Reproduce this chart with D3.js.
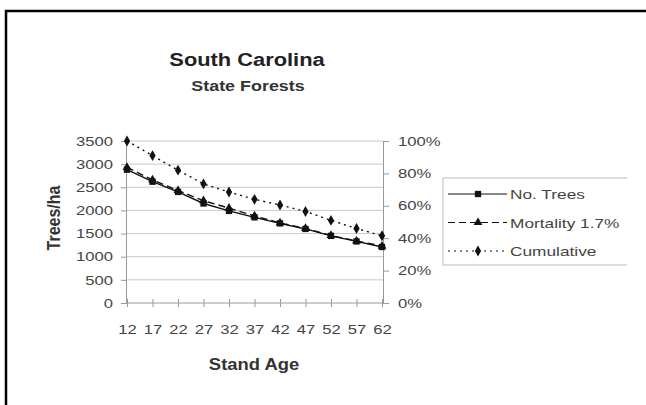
<!DOCTYPE html>
<html>
<head>
<meta charset="utf-8">
<script src="https://cdn.jsdelivr.net/npm/d3@7"></script>
<style>
  body { margin: 0; background: #fff; }
  text { font-family: Arial, "Liberation Sans", sans-serif; }
</style>
</head>
<body>
<svg id="chart" width="646" height="405"></svg>
<script>
// chart data
var ages = [12, 17, 22, 27, 32, 37, 42, 47, 52, 57, 62];
var noTrees = [2880, 2620, 2400, 2150, 1990, 1850, 1720, 1600, 1450, 1330, 1210];
var mortality = [2930, 2660, 2430, 2210, 2050, 1880, 1730, 1610, 1460, 1340, 1230];
var cumulative = [1.00, 0.91, 0.82, 0.735, 0.685, 0.64, 0.605, 0.565, 0.51, 0.46, 0.415];
var leftTicks = [0, 500, 1000, 1500, 2000, 2500, 3000, 3500];
var rightTicks = [0, 0.2, 0.4, 0.6, 0.8, 1.0];
var legendLabels = ["No. Trees", "Mortality 1.7%", "Cumulative"];

var svg = d3.select("#chart");
var plotL = 126, plotR = 383, plotT = 141, plotB = 303;

var x = d3.scalePoint().domain(ages).range([plotL + 1, plotR - 1]);
var yL = d3.scaleLinear().domain([0, 3500]).range([plotB, plotT]);
var yR = d3.scaleLinear().domain([0, 1]).range([plotB, plotT]);

// the source picture is stretched sideways, so text gets a horizontal scale
function stretchText(sel, sx){
	sel.each(function(){
		var t = d3.select(this);
		var x0 = +t.attr("x") || 0;
		t.attr("x", x0 / sx).attr("transform", "scale(" + sx + ",1)");
	});
}
function label(x0, y0, str, size, sx, bold){
	return svg.append("text")
			.attr("transform", "translate(" + x0 + "," + y0 + ") scale(" + sx + ",1)")
			.attr("text-anchor", "middle")
			.style("font-size", size + "px")
			.style("font-weight", bold ? "bold" : "normal")
			.style("fill", "#222")
			.text(str);
}

// outer frame (top & left visible)
svg.append("path")
		.attr("d", "M6,420 L6,11 L660,11")
		.style("fill", "none")
		.style("stroke", "#000")
		.style("stroke-width", 2.5);

// titles
label(247, 66, "South Carolina", 19, 1.15, true);
label(248, 91, "State Forests", 14, 1.28, true).style("fill", "#333");

// gridlines
svg.append("g").selectAll("line")
		.data(leftTicks.slice(1))
		.enter().append("line")
		.attr("x1", plotL).attr("x2", plotR)
		.attr("y1", function(d){ return yL(d); })
		.attr("y2", function(d){ return yL(d); })
		.style("stroke", "#c8c8c8").style("stroke-width", 1);

// left axis
var leftAxis = svg.append("g")
		.attr("transform", "translate(" + plotL + ",0)")
		.call(d3.axisLeft(yL).tickValues(leftTicks).tickSize(5).tickPadding(8)
			.tickFormat(d3.format("d")));
// right axis
var rightAxis = svg.append("g")
		.attr("transform", "translate(" + plotR + ",0)")
		.call(d3.axisRight(yR).tickValues(rightTicks).tickSize(6).tickPadding(9)
			.tickFormat(d3.format(".0%")));
// bottom axis
var bottomAxis = svg.append("g")
		.attr("transform", "translate(0," + plotB + ")")
		.call(d3.axisBottom(x).tickSize(0).tickPadding(22));
bottomAxis.selectAll(".tick").append("line")
		.attr("y1", -4).attr("y2", 4).style("stroke", "#999");
bottomAxis.select(".domain").attr("d", "M" + plotL + ",0H" + plotR);

[leftAxis, rightAxis, bottomAxis].forEach(function(a){
	a.select(".domain").style("stroke", "#999");
	a.selectAll(".tick line").style("stroke", "#999");
	a.selectAll("text").style("font-size", "13px").style("fill", "#444")
			.style("font-family", "Arial, 'Liberation Sans', sans-serif")
			.call(stretchText, 1.28);
});

// axis titles
svg.append("text")
		.attr("transform", "translate(60,218) scale(1.15,1) rotate(-90)")
		.attr("text-anchor", "middle").style("font-size", "16px").style("font-weight", "bold")
		.style("fill", "#333").text("Trees/ha");
label(254, 370, "Stand Age", 16, 1.15, true).style("fill", "#333");

// series
var series = [
	{ values: noTrees, scale: yL, dash: null, marker: d3.symbolSquare, size: 40 },
	{ values: mortality, scale: yL, dash: "7,4", marker: d3.symbolTriangle, size: 34 },
	{ values: cumulative, scale: yR, dash: "2,4", marker: d3.symbolDiamond, size: 34 }
];

series.forEach(function(s){
	var line = d3.line()
			.x(function(d, i){ return x(ages[i]); })
			.y(function(d){ return s.scale(d); });
	svg.append("path")
			.datum(s.values)
			.attr("d", line)
			.style("fill", "none")
			.style("stroke", "#111")
			.style("stroke-width", 1.4)
			.style("stroke-dasharray", s.dash);
	svg.append("g").selectAll("path")
			.data(s.values)
			.enter().append("path")
			.attr("d", d3.symbol().type(s.marker).size(s.size))
			.attr("transform", function(d, i){
				return "translate(" + x(ages[i]) + "," + s.scale(d) + ")";
			})
			.style("fill", "#111");
});

// legend
var legend = svg.append("g");
legend.append("rect")
		.attr("x", 443).attr("y", 178).attr("width", 200).attr("height", 87)
		.style("fill", "#fff").style("stroke", "#bbb").style("stroke-width", 1);
var legRows = legend.selectAll(".leg")
		.data(series)
		.enter().append("g")
		.attr("class", "leg")
		.attr("transform", function(d, i){ return "translate(0," + (194 + i * 28.5) + ")"; });
legRows.append("line")
		.attr("x1", 448).attr("x2", 507).attr("y1", 0).attr("y2", 0)
		.style("stroke", "#111").style("stroke-width", 1.2)
		.style("stroke-dasharray", function(d){ return d.dash; });
legRows.append("path")
		.attr("d", function(d){ return d3.symbol().type(d.marker).size(d.size)(); })
		.attr("transform", "translate(478,0)")
		.style("fill", "#111");
legRows.append("text")
		.attr("x", 510).attr("y", 5)
		.style("font-size", "13px").style("fill", "#444")
		.text(function(d, i){ return legendLabels[i]; })
		.call(stretchText, 1.33);
// clip at right like the source
svg.append("rect").attr("x", 627).attr("y", 170).attr("width", 30).attr("height", 110)
		.style("fill", "#fff");
</script>
</body>
</html>
